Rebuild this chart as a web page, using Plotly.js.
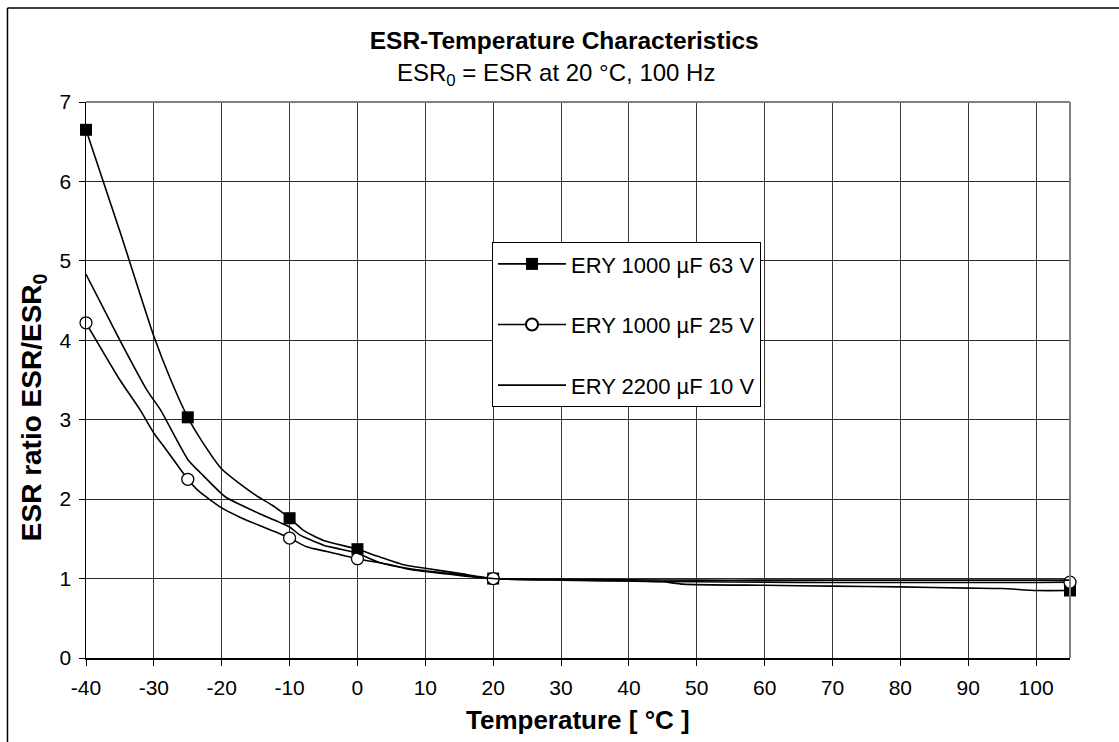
<!DOCTYPE html>
<html>
<head>
<meta charset="utf-8">
<script src="https://cdn.plot.ly/plotly-3.0.1.min.js"></script>
<style>
html,body{margin:0;padding:0;background:#fff;}
#chart{width:1119px;height:742px;}
.legend .legendlines path{stroke-width:1.6px !important;}
</style>
</head>
<body>
<div id="chart"></div>
<script>
// Series names
const seriesNames = ["ERY 1000 µF 63 V", "ERY 1000 µF 25 V", "ERY 2200 µF 10 V"];

// ERY 1000 µF 63 V (filled squares at measured points)
const t63 = [-40, -35, -30, -27.5, -25, -23, -20, -15, -12.5, -10, -8, -5, 0, 3, 7, 10, 15, 20, 30, 40, 45, 48, 60, 70, 80, 90, 95, 100, 105];
const v63 = [6.65, 5.37, 4.05, 3.5, 3.03, 2.74, 2.38, 2.05, 1.92, 1.76, 1.61, 1.48, 1.37, 1.28, 1.17, 1.13, 1.065, 1.0, 0.985, 0.97, 0.96, 0.93, 0.915, 0.905, 0.895, 0.88, 0.875, 0.85, 0.85];
const m63 = [-40, -25, -10, 0, 20, 105];

// ERY 1000 µF 25 V (open circles at measured points)
const t25 = [-40, -35, -32, -30, -28.5, -25, -23.5, -20, -17, -14.5, -10, -7.5, -4.5, 0, 5, 8, 15, 20, 30, 40, 50, 60, 70, 80, 90, 100, 105];
const v25 = [4.22, 3.5, 3.12, 2.83, 2.66, 2.25, 2.11, 1.89, 1.76, 1.67, 1.51, 1.40, 1.34, 1.25, 1.17, 1.11, 1.04, 1.0, 0.98, 0.97, 0.96, 0.955, 0.95, 0.95, 0.95, 0.95, 0.955];
const m25 = [-40, -25, -10, 0, 20, 105];

// ERY 2200 µF 10 V (line only)
const t10 = [-40, -35, -31, -29, -25, -23, -19.5, -17, -14.5, -10, -8.5, -5, -3, 0, 3, 8, 15, 20, 30, 40, 50, 60, 70, 80, 90, 100, 105];
const v10 = [4.83, 4.0, 3.37, 3.12, 2.5, 2.32, 2.03, 1.92, 1.82, 1.65, 1.55, 1.42, 1.38, 1.32, 1.21, 1.12, 1.05, 1.0, 0.99, 0.985, 0.98, 0.98, 0.98, 0.98, 0.98, 0.98, 0.98];

// Tick labels
const xTicks = [-40, -30, -20, -10, 0, 10, 20, 30, 40, 50, 60, 70, 80, 90, 100];
const yTicks = [0, 1, 2, 3, 4, 5, 6, 7];

const FONT = "Liberation Sans, Arial, sans-serif";

function sizes(ts, marks, s) { return ts.map(t => marks.includes(t) ? s : 0); }

const traces = [
  {
    x: t63, y: v63, name: seriesNames[0], type: "scatter", mode: "lines+markers", cliponaxis: false,
    line: {color: "#000", width: 1.6, shape: "spline", smoothing: 0.6},
    marker: {symbol: "square", color: "#000", opacity: 1, size: sizes(t63, m63, 12), line: {width: 0}},
    legendgroup: "a"
  },
  {
    x: t25, y: v25, name: seriesNames[1], type: "scatter", mode: "lines+markers", cliponaxis: false,
    line: {color: "#000", width: 1.6, shape: "spline", smoothing: 0.6},
    marker: {symbol: "circle", color: "#fff", opacity: 1, size: sizes(t25, m25, 12), line: {color: "#000", width: 1.3}},
    legendgroup: "b"
  },
  {
    x: t10, y: v10, name: seriesNames[2], type: "scatter", mode: "lines", cliponaxis: false,
    line: {color: "#000", width: 1.6, shape: "spline", smoothing: 0.6},
    legendgroup: "c"
  }
];

const layout = {
  width: 1119, height: 742,
  paper_bgcolor: "#fff", plot_bgcolor: "#fff",
  margin: {l: 86, r: 49, t: 102, b: 84, pad: 0},
  font: {family: FONT, color: "#000", size: 21},
  showlegend: true,
  title: {text: "<b>ESR-Temperature Characteristics</b>", font: {size: 24.5, family: FONT}, x: 0.486, xref: "paper", y: 0.946, yref: "container", xanchor: "center", yanchor: "middle"},
  xaxis: {
    range: [-40, 105], tickmode: "array", tickvals: xTicks, ticktext: xTicks.map(String),
    showgrid: true, gridcolor: "#3a3a3a", gridwidth: 1, zeroline: false,
    showline: true, linecolor: "#000", linewidth: 1.5,
    ticks: "outside", ticklen: 6, tickcolor: "#000", tickwidth: 1,
    tickfont: {size: 21, family: FONT}, ticklabelstandoff: 4,
    fixedrange: true
  },
  yaxis: {
    range: [0, 7], tickmode: "array", tickvals: yTicks, ticktext: yTicks.map(String),
    showgrid: true, gridcolor: "#2a2a2a", gridwidth: 1, zeroline: false,
    showline: true, linecolor: "#000", linewidth: 1.5,
    ticks: "outside", ticklen: 6, tickcolor: "#000", tickwidth: 1,
    tickfont: {size: 21, family: FONT}, ticklabelstandoff: 3,
    fixedrange: true
  },
  legend: {
    x: 0.4126, y: 0.748, xanchor: "left", yanchor: "top",
    bgcolor: "#fff", bordercolor: "#000", borderwidth: 1,
    font: {size: 22, family: FONT},
    tracegroupgap: 29, traceorder: "grouped",
    itemwidth: 68, itemsizing: "constant"
  },
  annotations: [
    {text: "ESR<sub>0</sub> = ESR at 20 °C, 100 Hz", xref: "paper", yref: "paper", x: 0.478, y: 1.0486, xanchor: "center", yanchor: "middle", showarrow: false, font: {size: 24, family: FONT}},
    {text: "<b>Temperature [ °C ]</b>", xref: "paper", yref: "paper", x: 0.5, y: -0.1115, xanchor: "center", yanchor: "middle", showarrow: false, font: {size: 26, family: FONT}},
    {text: "<b>ESR ratio ESR/ESR<sub>0</sub></b>", xref: "paper", yref: "paper", x: -0.0539, y: 0.451, xanchor: "center", yanchor: "middle", textangle: -90, showarrow: false, font: {size: 28, family: FONT}}
  ],
  shapes: [
    // plot area top and right border (grey)
    {type: "line", xref: "paper", yref: "paper", x0: 0, x1: 1, y0: 1, y1: 1, line: {color: "#808080", width: 2}},
    {type: "line", xref: "paper", yref: "paper", x0: 1, x1: 1, y0: 0, y1: 1, line: {color: "#808080", width: 2}},
    // outer frame (left and top)
    {type: "line", xref: "paper", yref: "paper", x0: -0.0798, x1: -0.0798, y0: -0.2, y1: 1.169, line: {color: "#000", width: 1.5}},
    {type: "line", xref: "paper", yref: "paper", x0: -0.0798, x1: 1.1, y0: 1.169, y1: 1.169, line: {color: "#000", width: 1.5}}
  ]
};

Plotly.newPlot("chart", traces, layout, {displayModeBar: false, staticPlot: true});
</script>
</body>
</html>
